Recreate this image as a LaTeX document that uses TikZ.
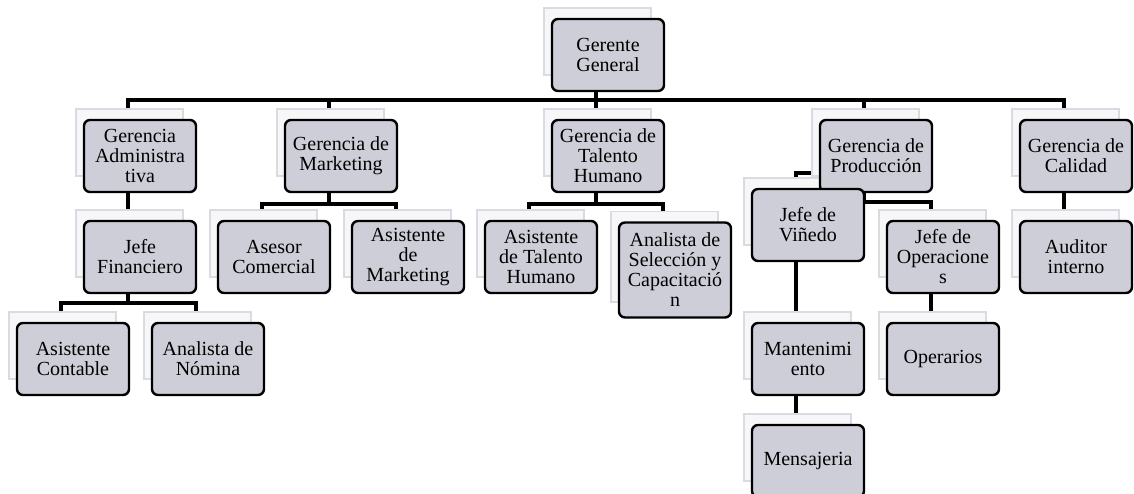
\documentclass[tikz,border=0pt]{standalone}
\usepackage{fontspec}
\setmainfont{Liberation Serif}
\usetikzlibrary{calc,positioning}
\definecolor{BoxClr}{RGB}{206,206,216}
\definecolor{PageClr}{RGB}{247,247,249}
\definecolor{PageLine}{RGB}{218,218,224}
\pgfdeclarelayer{background}
\pgfsetlayers{background,main}

\begin{document}
\begin{tikzpicture}[x=0.5pt,y=-0.5pt,
  orgbox/.style={draw=black,line width=1.2pt,fill=BoxClr,rounded corners=3pt,
    minimum width=56pt,minimum height=36pt,align=center,inner sep=1pt,
    font=\fontsize{10}{10}\selectfont},
  conn/.style={line width=2pt,black},
  page/.style={fill=PageClr,draw=PageLine,line width=0.8pt}]
\useasboundingbox (0,0) rectangle (1134,493);

% top
\node[orgbox] (gg) at (608,55) {Gerente\\General};

% gerencias
\node[orgbox] (ga) at (140,156) {Gerencia\\Administra\\tiva};
\node[orgbox] (gm) at (341,156) {Gerencia de\\Marketing};
\node[orgbox] (gth) at (608,156) {Gerencia de\\Talento\\Humano};
\node[orgbox] (gp) at (876,156) {Gerencia de\\Producción};
\node[orgbox] (gc) at (1076,156) {Gerencia de\\Calidad};

% second level
\node[orgbox] (jf) at (140,257) {Jefe\\Financiero};
\node[orgbox] (ac) at (274,257) {Asesor\\Comercial};
\node[orgbox] (am) at (408,257) {Asistente\\de\\Marketing};
\node[orgbox] (ath) at (541,257) {Asistente\\de Talento\\Humano};
\node[orgbox,minimum height=47.5pt] (asc) at (675,270) {Analista de\\Selección y\\Capacitació\\n};
\node[orgbox] (jv) at (808,225) {Jefe de\\Viñedo};
\node[orgbox] (jo) at (943,257) {Jefe de\\Operacione\\s};
\node[orgbox] (ai) at (1076,257) {Auditor\\interno};

% third level
\node[orgbox] (acon) at (73,359) {Asistente\\Contable};
\node[orgbox] (an) at (208,359) {Analista de\\Nómina};
\node[orgbox] (mant) at (808,359) {Mantenimi\\ento};
\node[orgbox] (ope) at (943,359) {Operarios};
\node[orgbox] (mens) at (808,461) {Mensajeria};

\begin{pgfonlayer}{background}
% connectors
\foreach \n in {ga,gm,gth,gp,gc}
  \draw[conn] ([xshift=-6pt]gg.south) -- ++(0,8) -| ([xshift=-6pt]\n.north);
\draw[conn] ([xshift=-6pt]ga.south) -- ([xshift=-6pt]jf.north);
\foreach \n in {ac,am}
  \draw[conn] ([xshift=-6pt]gm.south) -- ++(0,11) -| ([xshift=-6pt]\n.north);
\foreach \n in {ath,asc}
  \draw[conn] ([xshift=-6pt]gth.south) -- ++(0,11) -| ([xshift=-6pt]\n.north);
\draw[conn] ([xshift=-6pt]gp.south) -- ++(0,9) -| ([xshift=-6pt]jo.north);
\draw[conn] ([yshift=-8.5pt]gp.west) -| ([xshift=-6pt]jv.north);
\draw[conn] ([xshift=-6pt]gc.south) -- ([xshift=-6pt]ai.north);
\foreach \n in {acon,an}
  \draw[conn] ([xshift=-6pt]jf.south) -- ++(0,9) -| ([xshift=-6pt]\n.north);
\draw[conn] ([xshift=-6pt]jv.south) -- ([xshift=-6pt]mant.north);
\draw[conn] ([xshift=-6pt]jo.south) -- ([xshift=-6pt]ope.north);
\draw[conn] ([xshift=-6pt]mant.south) -- ([xshift=-6pt]mens.north);

% pages behind the boxes
\foreach \n in {gg,ga,gm,gth,gp,gc,jf,ac,am,ath,asc,jv,jo,ai,acon,an,mant,ope,mens}
  \draw[page] ($(\n.north west)+(-7,-10)$) rectangle ($(\n.south east)+(-14,-17)$);
\end{pgfonlayer}
\end{tikzpicture}
\end{document}
